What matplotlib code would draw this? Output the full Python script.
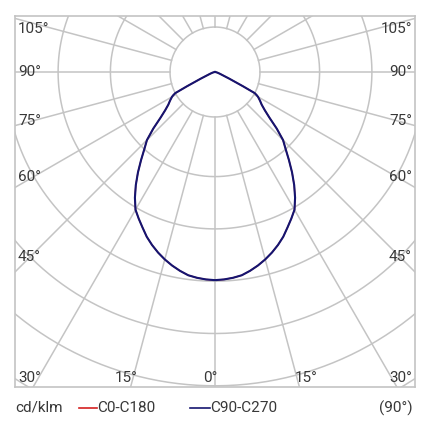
import numpy as np
from matplotlib import pyplot as plt

# light distribution, cd/klm, gamma measured from nadir
gamma = [0, 2.5, 5, 7.5, 10, 12.5, 15, 17.5, 20, 22.5, 25, 27.5, 30, 32.5, 35, 37.5,
         40, 42.5, 45, 47.5, 50, 52.5, 55, 57.5, 60, 61, 62, 63, 65, 70, 75, 80, 90]
c0_c180 = [398, 397, 395, 392, 386, 379, 371, 362, 352, 341, 328, 316, 304, 285, 264, 242,
           220, 200, 184, 160, 136, 120, 109, 102, 95, 91, 86, 60, 30, 10, 5, 2, 0]
c90_c270 = [398, 397, 395, 392, 386, 379, 371, 362, 352, 341, 328, 316, 304, 285, 264, 242,
            220, 200, 184, 160, 136, 120, 109, 102, 95, 91, 86, 60, 30, 10, 5, 2, 0]

rings = [200, 300, 400, 500, 600, 700]
r_inner = 86
side_labels = ['105°', '90°', '75°', '60°', '45°']
bottom_labels = ['30°', '15°', '0°', '15°', '30°']

W, H = 431, 430
plt.rc('font', family=['Roboto', 'DejaVu Sans'])
fig = plt.figure(figsize=(W / 100, H / 100), dpi=100)

# box in pixels: x 15..415, y 16..387, pole at (215, 72)
scale = 0.523
ax = fig.add_axes([15 / W, (H - 387) / H, 400 / W, 371 / H])
ax.set_xlim(-200 / scale, 200 / scale)
ax.set_ylim(-315 / scale, 56 / scale)
ax.set_xticks([])
ax.set_yticks([])
for s in ax.spines.values():
    s.set_color('#c4c4c4')
    s.set_linewidth(1.2)

grid = '#c4c4c4'
t = np.linspace(0, 2 * np.pi, 400)
for r in [r_inner] + rings:
    ax.plot(r * np.sin(t), r * np.cos(t), color=grid, lw=1.1, zorder=1)
for a in range(0, 360, 15):
    a = np.radians(a)
    ax.plot([r_inner * np.sin(a), 900 * np.sin(a)],
            [-r_inner * np.cos(a), -900 * np.cos(a)], color=grid, lw=1.1, zorder=1)


def curve(vals):
    g = np.radians(np.array(gamma, dtype=float))
    v = np.array(vals, dtype=float)
    g = np.concatenate([-g[::-1], g[1:]])
    v = np.concatenate([v[::-1], v[1:]])
    return v * np.sin(g), -v * np.cos(g)


x, y = curve(c0_c180)
ax.plot(x, y, color='#d42020', lw=1.0, zorder=2)
x, y = curve(c90_c270)
ax.plot(x, y, color='#151570', lw=1.5, zorder=3, solid_joinstyle='round')

tc = '#383838'
fs = 11


def px(x, y):
    return x / W, 1 - y / H


side_y = [29, 72, 121, 177, 257]
for lab, yy in zip(side_labels, side_y):
    fig.text(*px(18, yy), lab, ha='left', va='center', fontsize=fs, color=tc)
    fig.text(*px(412, yy), lab, ha='right', va='center', fontsize=fs, color=tc)

bottom_x = [18, 126, 210, 306, 412]
bottom_ha = ['left', 'center', 'center', 'center', 'right']
for lab, xx, ha in zip(bottom_labels, bottom_x, bottom_ha):
    fig.text(*px(xx, 378), lab, ha=ha, va='center', fontsize=fs, color=tc)

# legend row
ly = 408
fig.text(*px(15, ly), 'cd/klm', ha='left', va='center', fontsize=fs, color=tc)
fig.add_artist(plt.Line2D([79 / W, 97 / W], [1 - ly / H] * 2, color='#d42020', lw=1.2))
fig.text(*px(97, ly), 'C0-C180', ha='left', va='center', fontsize=fs, color=tc)
fig.add_artist(plt.Line2D([190 / W, 210 / W], [1 - ly / H] * 2, color='#151570', lw=1.2))
fig.text(*px(210, ly), 'C90-C270', ha='left', va='center', fontsize=fs, color=tc)
fig.text(*px(413, ly), '(90°)', ha='right', va='center', fontsize=fs, color=tc)

fig.savefig('out.png', dpi=100, facecolor='white')
